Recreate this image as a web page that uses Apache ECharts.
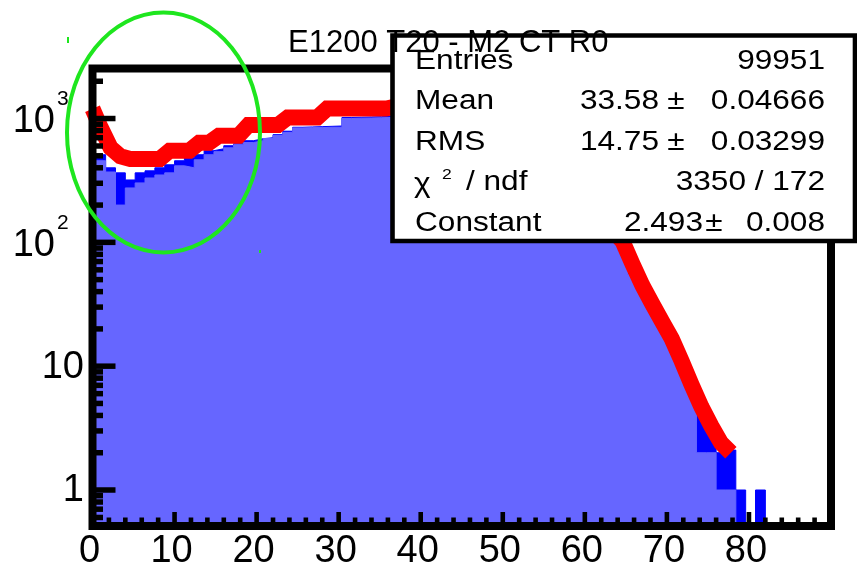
<!DOCTYPE html>
<html><head><meta charset="utf-8">
<script src="https://cdn.jsdelivr.net/npm/echarts@6/dist/echarts.min.js"></script>
<style>html,body{margin:0;padding:0;background:#fff}#c{width:857px;height:571px}</style>
</head><body><div id="c"></div>
<script>
// ---- data ----
const BIN_START = 0.4, BIN_WIDTH = 1.2;
const darkBlue = [510,400,364,319,364,378,400,423,456,482,510,550,570,603,626,662,687,700,741,790,
  850,855,860,865,870,1020,1025,1030,1035,1040,1080,1110,1140,1170,1190,1200,1210,1200,1190,1170,
  1140,1090,1030,950,860,760,650,540,430,330,240,170,115,95,62,45,33,24,17,12,
  8,4.5,3.1,2.0,2.1,1,0,1,0,0];
const lightBlue = [456,370,200,275,302,331,350,364,415,400,464,510,540,580,615,640,662,690,730,770,
  840,845,845,850,850,1000,1005,1010,1015,1020,1030,1060,1090,1120,1140,1150,1160,1150,1140,1120,
  1090,1040,980,900,820,720,620,510,410,315,230,160,108,85,55,40,29,21,15,10,
  7,2,2,1,1,0,0,0,0,0];
const redAtZero = 1200;
const redLine = [845,581,495,472,472,472,472,550,550,550,638,638,727,727,727,885,885,885,885,1019,
  1019,1019,1019,1205,1205,1205,1205,1205,1205,1205,1250,1280,1300,1310,1320,1320,1310,1300,1280,1250,
  1210,1150,1080,990,890,780,660,540,420,320,240,175,125,102,67,45,32,23,16.6,11,
  7.1,4.7,3.3,2.4,2.0];
const xTickLabels = ['0','10','20','30','40','50','60','70','80'];
const yDecades = [1,10,100,1000];
const yDecadeLabels = [['1',''],['10',''],['10','2'],['10','3']];
const X_MIN = 0, X_MAX = 90, Y_MIN = 0.512, Y_MAX = 2535;
const titleText = 'E1200 T20 - M2 CT R0';
const statRows = [
  {name:'Entries', val:'99951'},
  {name:'Mean', val:'33.58', pm:'0.04666'},
  {name:'RMS', val:'14.75', pm:'0.03299'},
  {name:'chi', val:'3350 / 172'},
  {name:'Constant', val:'2.493', pm:'0.008'}
];

// ---- build ----
const FLOOR = 1e-3;
function histPoints(arr){
  const pts = arr.map((v,k)=>[BIN_START+k*BIN_WIDTH, v>0?v:FLOOR]);
  const last = arr[arr.length-1];
  pts.push([BIN_START+arr.length*BIN_WIDTH, last>0?last:FLOOR]);
  return pts;
}
const redPts = [[0, redAtZero]].concat(redLine.map((v,k)=>[BIN_START+(k+0.5)*BIN_WIDTH, v]));

const chart = echarts.init(document.getElementById('c'), null, {renderer:'canvas'});
const hidden = {axisLine:{show:false}, axisTick:{show:false}, axisLabel:{show:false}, splitLine:{show:false}};
chart.setOption({
  animation:false,
  backgroundColor:'#ffffff',
  grid:{left:92.5, right:26, top:68.5, bottom:45, containLabel:false},
  xAxis:Object.assign({type:'value', min:X_MIN, max:X_MAX}, hidden),
  yAxis:Object.assign({type:'log', logBase:10, min:Y_MIN, max:Y_MAX}, hidden),
  series:[
    {type:'line', step:'end', data:histPoints(darkBlue), symbol:'none', clip:true, z:2,
     lineStyle:{width:1, color:'#0000ff'}, areaStyle:{color:'#0000ff', opacity:1, origin:'start'}},
    {type:'line', step:'end', data:histPoints(lightBlue), symbol:'none', clip:true, z:3,
     lineStyle:{width:1, color:'#6666ff'}, areaStyle:{color:'#6666ff', opacity:1, origin:'start'}},
    {type:'line', data:redPts, symbol:'none', clip:false, z:4,
     lineStyle:{width:16, color:'#ff0000', join:'miter', cap:'butt'}}
  ]
});

const P = (x,y)=>chart.convertToPixel({gridIndex:0},[x,y]);
const FONT = '"Liberation Sans", Arial, Helvetica, sans-serif';
const g = [];
function txt(x,y,s,size,align,z,extra){
  g.push(Object.assign({type:'text', x:x, y:y, z:z||120, silent:true,
    style:{text:s, font:size+'px '+FONT, fill:'#000', align:align, verticalAlign:'middle',
           textAlign:align, textVerticalAlign:'middle'}}, extra||{}));
}
function line(x1,y1,x2,y2,w,z){
  g.push({type:'line', z:z||60, silent:true, shape:{x1,y1,x2,y2}, style:{stroke:'#000', lineWidth:w}});
}
const bl = P(X_MIN, Y_MIN), tr = P(X_MAX, Y_MAX);
// frame
g.push({type:'rect', z:55, silent:true, shape:{x:bl[0], y:tr[1], width:tr[0]-bl[0], height:bl[1]-tr[1]},
  style:{fill:'rgba(0,0,0,0)', stroke:'#000', lineWidth:8}});
// x ticks
for(let v=0; v<=X_MAX; v+=2){
  const p = P(v, Y_MIN);
  const major = v%10===0;
  line(p[0], bl[1], p[0], bl[1]-(major?14:8.5), 4.6);
}
xTickLabels.forEach(s=>{
  const p = P(Number(s), Y_MIN);
  txt(p[0]-3, 552, s, 38, 'center');
});
// y ticks
for(let d=0.1; d<=1000; d*=10){
  for(let m=1; m<=9; m++){
    const v = Math.round(d*m*1000)/1000;
    if(v<Y_MIN || v>Y_MAX) continue;
    const p = P(X_MIN, v);
    line(bl[0], p[1], bl[0]+(m===1?23:10.5), p[1], 5.5);
  }
}
yDecades.forEach((v,i)=>{
  const p = P(X_MIN, v);
  const lab = yDecadeLabels[i];
  if(lab[1]){
    txt(55, p[1]+3, lab[0], 38, 'right');
    txt(57, p[1]-19, lab[1], 21, 'left');
  } else {
    txt(84, p[1]+1, lab[0], 38, 'right');
  }
});
// green annotation ellipse
g.push({type:'ellipse', z:70, silent:true, shape:{cx:163.5, cy:132.5, rx:96.5, ry:120},
  style:{fill:'rgba(0,0,0,0)', stroke:'#1ee61e', lineWidth:4}});
g.push({type:'rect', z:70, silent:true, shape:{x:67, y:37, width:2, height:6}, style:{fill:'#1ee61e'}});
g.push({type:'rect', z:70, silent:true, shape:{x:259, y:250, width:2, height:3}, style:{fill:'#1ee61e'}});
// stats box fill
g.push({type:'rect', z:100, silent:true, shape:{x:392.5, y:35.5, width:462.5, height:205.5}, style:{fill:'#fff'}});
// title
txt(288, 43.5, titleText, 31, 'left', 105);
// stats text
const SX = 1.17, rowY = [61.5, 102, 142.5, 183, 223.5];
statRows.forEach((r,i)=>{
  const y = rowY[i];
  if(r.name==='chi'){
    txt(414, y+2, '\u03c7', 27, 'left', 110, {scaleX:SX});
    txt(442, y-8, '2', 15, 'left', 110, {scaleX:SX});
    txt(466, y, '/ ndf', 27, 'left', 110, {scaleX:SX});
  } else {
    txt(415, y, r.name, 27, 'left', 110, {scaleX:SX});
  }
  if(r.pm){
    const pmX = r.name==='Constant' ? 714 : 676;
    const valR = r.name==='Constant' ? 703 : 659;
    txt(valR, y, r.val, 27, 'right', 110, {scaleX:SX});
    txt(pmX, y, '\u00b1', 27, 'center', 110, {scaleX:SX});
    txt(825, y, r.pm, 27, 'right', 110, {scaleX:SX});
  } else {
    txt(825, y, r.val, 27, 'right', 110, {scaleX:SX});
  }
});
// stats box border
g.push({type:'rect', z:115, silent:true, shape:{x:392.5, y:35.5, width:462.5, height:205.5},
  style:{fill:'rgba(0,0,0,0)', stroke:'#000', lineWidth:4.6}});
chart.setOption({graphic:{elements:g}});
</script></body></html>
